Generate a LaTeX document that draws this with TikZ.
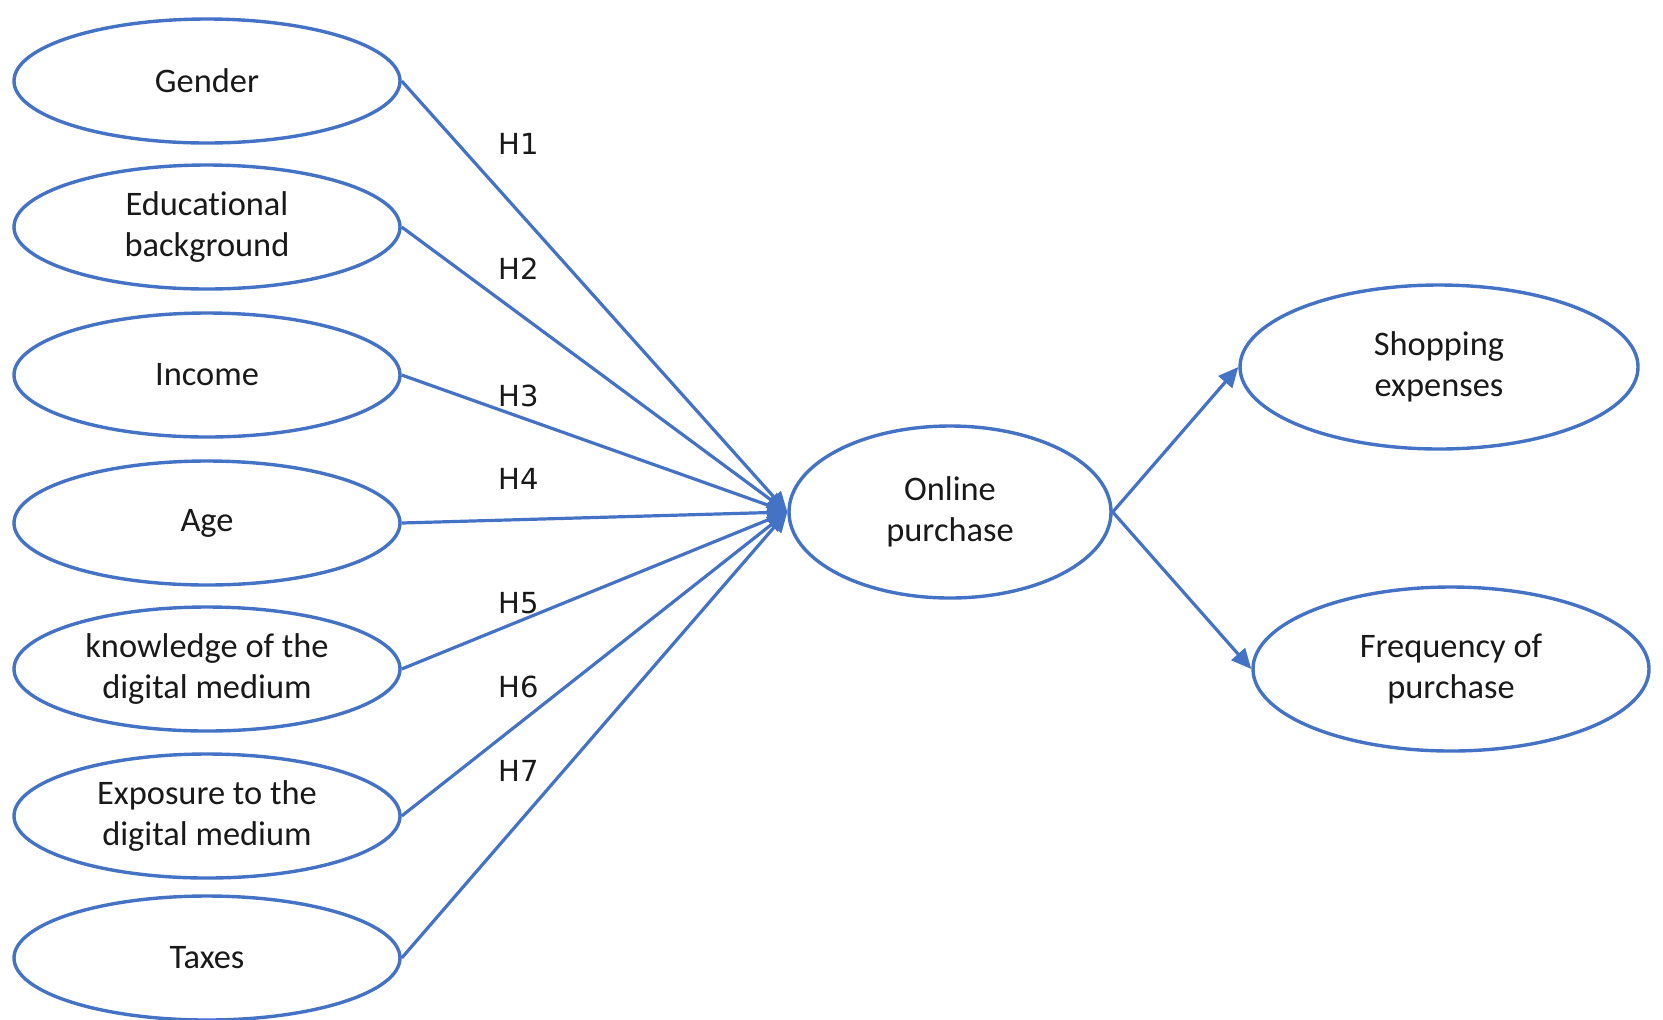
\documentclass[tikz,border=0pt]{standalone}
\usepackage{fontspec}
\setmainfont{Carlito}[Ligatures={NoCommon}]
\newfontfamily\hfont{DejaVu Sans}
\usetikzlibrary{shapes.geometric,arrows.meta}
\definecolor{ofblue}{HTML}{4472C4}
\begin{document}
\begin{tikzpicture}[x=0.5pt,y=-0.5pt,
 ell/.style={ellipse,draw=ofblue,line width=1.7pt,inner sep=0pt,align=center,
   font=\fontsize{17.2}{20.5}\selectfont,text=black!90},
 leftell/.style={ell,minimum width=193pt,minimum height=62pt},
 arr/.style={draw=ofblue,line width=1.6pt,-{Triangle[length=10pt,width=9pt]}},
 hlab/.style={font=\hfont\fontsize{14.5}{16}\selectfont,text=black!90}]
\useasboundingbox[fill=white] (0,0) rectangle (1663,1019);
\node[leftell] (gender) at (207,81) {Gender};
\node[leftell] (edu) at (207,227) {Educational\\background};
\node[leftell] (income) at (207,375) {Income};
\node[leftell] (age) at (207,523) {Age};
\node[leftell] (know) at (207,669) {knowledge of the\\digital medium};
\node[leftell] (expo) at (207,816) {Exposure to the\\digital medium};
\node[leftell] (taxes) at (207,958) {Taxes};
\node[ell,minimum width=161pt,minimum height=86pt] (online) at (950,512) {Online\\purchase};
\node[ell,minimum width=199pt,minimum height=82pt] (shop) at (1439,367) {Shopping\\expenses};
\node[ell,minimum width=198pt,minimum height=82pt] (freq) at (1451,669) {Frequency of\\purchase};
\foreach \n in {gender,edu,income,age,know,expo,taxes}
  \draw[arr] (\n.east) -- (online.west);
\draw[arr] (online.east) -- (shop.west);
\draw[arr] (online.east) -- (freq.west);
\node[hlab] (h1) at (519,144) {H1};
\node[hlab] (h2) at (519,269) {H2};
\node[hlab] (h3) at (519,396) {H3};
\node[hlab] (h4) at (519,479) {H4};
\node[hlab] (h5) at (519,603) {H5};
\node[hlab] (h6) at (519,687) {H6};
\node[hlab] (h7) at (519,771) {H7};
\end{tikzpicture}
\end{document}
